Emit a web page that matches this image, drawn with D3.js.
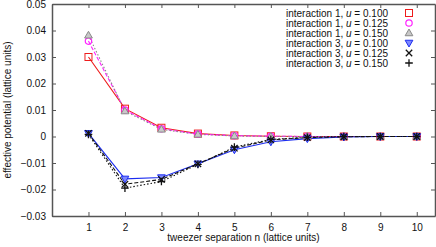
<!DOCTYPE html>
<html>
<head>
<meta charset="utf-8">
<script src="https://cdn.jsdelivr.net/npm/d3@7"></script>
<style>
  body { margin: 0; background: #fff; }
  svg { font-family: "Liberation Sans", Arial, sans-serif; }
</style>
</head>
<body>
<div id="chart"></div>
<script>
// tweezer separations
var separations = [1, 2, 3, 4, 5, 6, 7, 8, 9, 10];

// effective potential
var int1_u100 = [0.0300, 0.0105, 0.0033, 0.0011, 0.0004, 0.0001, 0.0000, 0.0000, 0.0000, 0.0000];
var int1_u125 = [0.0360, 0.0100, 0.0029, 0.0009, 0.0003, 0.0001, 0.0000, 0.0000, 0.0000, 0.0000];
var int1_u150 = [0.0382, 0.0096, 0.0027, 0.0008, 0.0002, 0.0000, 0.0000, 0.0000, 0.0000, 0.0000];
var int3_u100 = [0.0012, -0.0160, -0.0155, -0.0103, -0.0050, -0.0020, -0.0008, -0.0002, 0.0000, 0.0000];
var int3_u125 = [0.0012, -0.0180, -0.0162, -0.0103, -0.0044, -0.0013, -0.0004, -0.0001, 0.0000, 0.0000];
var int3_u150 = [0.0008, -0.0195, -0.0170, -0.0105, -0.0040, -0.0011, -0.0003, 0.0000, 0.0000, 0.0000];

var seriesLabels = ["interaction 1, ", "interaction 1, ", "interaction 1, ", "interaction 3, ", "interaction 3, ", "interaction 3, "];
var uValues = ["0.100", "0.125", "0.150", "0.100", "0.125", "0.150"];

var yTicks = [-0.03, -0.02, -0.01, 0, 0.01, 0.02, 0.03, 0.04, 0.05];

var series = [
  { values: int1_u100, color: "#ee1c1c", dash: null, marker: "square" },
  { values: int1_u125, color: "#ff22ff", dash: "4,2", marker: "circle" },
  { values: int1_u150, color: "#8a8a8a", dash: "1.5,2", marker: "triangle" },
  { values: int3_u100, color: "#1c2cf0", dash: null, marker: "down" },
  { values: int3_u125, color: "#111111", dash: "4,2", marker: "cross" },
  { values: int3_u150, color: "#111111", dash: "1.5,2", marker: "plus" }
];

var width = 436, height = 247;
var margin = { top: 4, right: 1, bottom: 31, left: 52 };

var svg = d3.select("#chart").append("svg")
  .attr("width", width)
  .attr("height", height);

var x = d3.scaleLinear().domain([0, 10.5]).range([margin.left, width - margin.right]);
var y = d3.scaleLinear().domain([-0.03, 0.05]).range([height - margin.bottom, margin.top]);

var axisColor = "#555";

// axes with inward ticks on all four sides
var axBottom = svg.append("g")
  .attr("transform", "translate(0," + y(-0.03) + ")")
  .call(d3.axisBottom(x).tickValues(separations).tickSizeInner(-4).tickSizeOuter(0).tickPadding(8));
var axTop = svg.append("g")
  .attr("transform", "translate(0," + y(0.05) + ")")
  .call(d3.axisTop(x).tickValues(separations).tickSizeInner(-4).tickSizeOuter(0).tickFormat(""));
var axLeft = svg.append("g")
  .attr("transform", "translate(" + x(0) + ",0)")
  .call(d3.axisLeft(y).tickValues(yTicks).tickSizeInner(-4).tickSizeOuter(0).tickPadding(6)
    .tickFormat(function(d) { return d === 0 ? "0" : d3.format(".2f")(d); }));
var axRight = svg.append("g")
  .attr("transform", "translate(" + x(10.5) + ",0)")
  .call(d3.axisRight(y).tickValues(yTicks).tickSizeInner(-4).tickSizeOuter(0).tickFormat(""));

[axBottom, axTop, axLeft, axRight].forEach(function(g) {
  g.select(".domain").attr("stroke", axisColor).attr("stroke-width", 1.5);
  g.selectAll(".tick line").attr("stroke", axisColor);
  g.selectAll("text").attr("font-size", 10).attr("fill", "#111").attr("font-family", "Liberation Sans, Arial, sans-serif");
});

// axis labels
svg.append("text")
  .attr("x", (x(0) + x(10.5)) / 2)
  .attr("y", 241)
  .attr("text-anchor", "middle")
  .attr("font-size", 10)
  .attr("fill", "#111")
  .text("tweezer separation n (lattice units)");

svg.append("text")
  .attr("transform", "translate(11," + ((y(0.05) + y(-0.03)) / 2) + ") rotate(-90)")
  .attr("text-anchor", "middle")
  .attr("font-size", 10)
  .attr("fill", "#111")
  .text("effective potential (lattice units)");

// marker drawing
function drawMarker(g, type, cx, cy, color) {
  if (type === "square") {
    g.append("rect").attr("x", cx - 3.5).attr("y", cy - 3.5).attr("width", 7).attr("height", 7)
      .attr("fill", "none").attr("stroke", color).attr("stroke-width", 1);
  } else if (type === "circle") {
    g.append("circle").attr("cx", cx).attr("cy", cy).attr("r", 3.2)
      .attr("fill", "none").attr("stroke", color).attr("stroke-width", 1.2);
  } else if (type === "triangle") {
    g.append("path").attr("d", d3.symbol().type(d3.symbolTriangle).size(26)())
      .attr("transform", "translate(" + cx + "," + (cy + 0.5) + ")")
      .attr("fill", "#c8c8c8").attr("stroke", color).attr("stroke-width", 1);
  } else if (type === "down") {
    g.append("path").attr("d", d3.symbol().type(d3.symbolTriangle).size(26)())
      .attr("transform", "translate(" + cx + "," + (cy - 0.5) + ") rotate(180)")
      .attr("fill", "#7d88ff").attr("stroke", color).attr("stroke-width", 1);
  } else if (type === "cross") {
    g.append("path").attr("d", "M" + (cx - 3.2) + "," + (cy - 3.2) + "L" + (cx + 3.2) + "," + (cy + 3.2) +
      "M" + (cx - 3.2) + "," + (cy + 3.2) + "L" + (cx + 3.2) + "," + (cy - 3.2))
      .attr("stroke", color).attr("stroke-width", 1.3);
  } else if (type === "plus") {
    g.append("path").attr("d", "M" + (cx - 3.8) + "," + cy + "L" + (cx + 3.8) + "," + cy +
      "M" + cx + "," + (cy - 3.8) + "L" + cx + "," + (cy + 3.8))
      .attr("stroke", color).attr("stroke-width", 1.3);
  }
}

var line = d3.line()
  .x(function(d, i) { return x(separations[i]); })
  .y(function(d) { return y(d); });

var plot = svg.append("g");

series.forEach(function(s) {
  plot.append("path")
    .datum(s.values)
    .attr("d", line)
    .attr("fill", "none")
    .attr("stroke", s.color)
    .attr("stroke-width", 1.1)
    .attr("stroke-dasharray", s.dash);
});

series.forEach(function(s) {
  var g = plot.append("g");
  s.values.forEach(function(v, i) {
    drawMarker(g, s.marker, x(separations[i]), y(v), s.color);
  });
});

// legend
var legend = svg.append("g");
series.forEach(function(s, i) {
  var ly = 13 + i * 10;
  var t = legend.append("text")
    .attr("x", 388)
    .attr("y", ly + 3.5)
    .attr("text-anchor", "end")
    .attr("font-size", 10)
    .attr("fill", "#111");
  t.append("tspan").text(seriesLabels[i]);
  t.append("tspan").attr("font-style", "italic").text("u");
  t.append("tspan").text(" = " + uValues[i]);
  drawMarker(legend, s.marker, 409, ly, s.color);
});
</script>
</body>
</html>
